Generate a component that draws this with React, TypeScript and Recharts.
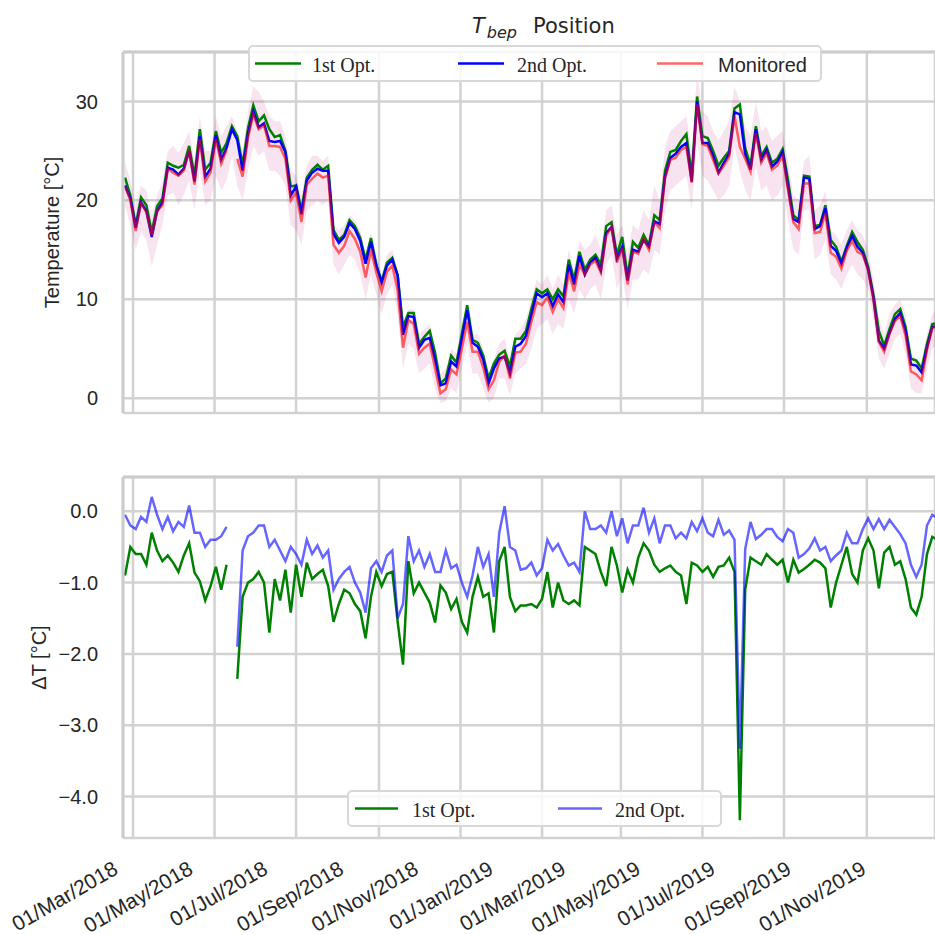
import type { FC } from 'react';

import {
  Area,
  CartesianGrid,
  ComposedChart,
  Legend,
  Line,
  LineChart,
  ReferenceLine,
  XAxis,
  YAxis,
} from 'recharts';

// sampled every 4 days, first sample 6 days before 01/Mar/2018
const START_DATE = '2018-03-01';
const FIRST_DAY = -6;
const STEP_DAYS = 4;

const tickDates = [
  '2018-03-01', '2018-05-01', '2018-07-01', '2018-09-01', '2018-11-01', '2019-01-01',
  '2019-03-01', '2019-05-01', '2019-07-01', '2019-09-01', '2019-11-01',
];
const tickLabels = [
  '01/Mar/2018', '01/May/2018', '01/Jul/2018', '01/Sep/2018', '01/Nov/2018', '01/Jan/2019',
  '01/Mar/2019', '01/May/2019', '01/Jul/2019', '01/Sep/2019', '01/Nov/2019',
];

// temperature [°C]
const opt1Temp = [
  22.3, 20.5, 17.5, 20.3, 19.5, 16.8, 19.4, 20.2, 23.8, 23.5,
  23.3, 23.6, 25.5, 22.5, 27.2, 23.1, 23.8, 27.0, 24.8, 25.8,
  27.5, 26.5, 23.6, 27.3, 29.6, 28.0, 28.6, 27.2, 26.4, 26.6,
  25.0, 21.4, 21.5, 19.0, 22.3, 23.1, 23.6, 23.1, 23.5, 17.0,
  16.0, 16.5, 18.0, 17.4, 16.2, 14.0, 16.2, 13.5, 11.8, 13.7,
  14.2, 12.4, 7.2, 8.6, 8.6, 5.5, 6.2, 6.8, 4.6, 1.5,
  2.0, 4.3, 3.6, 6.5, 9.4, 5.9, 5.6, 4.3, 2.0, 3.5,
  4.4, 4.8, 3.2, 6.0, 6.0, 6.8, 9.0, 11.0, 10.6, 11.0,
  10.0, 11.0, 10.3, 14.0, 12.0, 14.8, 13.0, 14.0, 14.5, 13.5,
  17.4, 17.8, 14.5, 16.3, 12.3, 15.8, 15.2, 16.5, 15.5, 18.5,
  18.0, 23.0, 24.9, 25.1, 26.0, 26.7, 22.5, 30.5, 26.5, 26.3,
  25.0, 23.5, 24.3, 25.0, 29.3, 29.7, 25.3, 23.5, 27.5, 24.5,
  25.4, 23.8, 24.2, 25.2, 22.1, 18.5, 18.0, 22.5, 22.4, 17.4,
  17.5, 19.5, 16.0, 15.3, 13.8, 15.4, 16.8, 15.8, 15.0, 13.3,
  10.4, 6.8, 5.3, 7.0, 8.5, 9.0, 7.2, 4.0, 3.8, 3.0,
  5.5, 7.5, 7.6,
];
const opt2Temp = [
  21.5, 20.2, 17.2, 19.8, 18.9, 16.3, 18.9, 19.8, 23.3, 23.1,
  22.6, 23.2, 25.0, 21.9, 26.5, 22.4, 23.2, 26.6, 24.1, 25.3,
  27.2, 26.1, 23.0, 26.7, 29.0, 27.4, 27.8, 26.0, 25.9, 26.0,
  24.9, 20.5, 21.4, 18.6, 22.0, 22.8, 23.2, 23.0, 23.0, 16.6,
  15.7, 16.3, 17.7, 17.1, 15.9, 13.6, 15.8, 13.4, 11.7, 13.4,
  14.0, 12.4, 6.4, 8.3, 8.2, 5.1, 5.9, 6.1, 3.9, 1.3,
  1.5, 3.7, 3.2, 6.0, 8.9, 5.6, 5.2, 3.9, 1.5, 3.0,
  4.0, 4.2, 2.5, 5.2, 5.5, 6.3, 8.4, 10.6, 10.2, 10.6,
  9.3, 10.5, 9.7, 13.5, 11.5, 14.4, 12.5, 13.7, 14.2, 12.9,
  16.7, 17.3, 14.1, 15.3, 11.9, 15.0, 14.8, 16.0, 15.3, 17.9,
  17.6, 22.4, 24.3, 24.7, 25.4, 25.8, 21.9, 30.0, 25.8, 25.8,
  24.5, 22.8, 23.8, 24.7, 28.9, 28.7, 24.7, 23.1, 27.2, 24.1,
  25.1, 23.4, 23.9, 24.9, 21.4, 18.1, 17.8, 22.3, 22.2, 17.1,
  17.4, 19.2, 15.4, 14.9, 13.6, 15.2, 16.4, 15.3, 14.7, 13.0,
  10.1, 5.8, 5.0, 6.6, 8.0, 8.6, 6.8, 3.4, 3.3, 2.6,
  5.1, 7.2, 7.3,
];
const monitoredTemp = [
  21.4, 20.0, 16.9, 19.7, 18.8, 16.5, 18.9, 19.5, 23.2, 22.8,
  22.5, 23.0, 25.1, 21.6, 26.2, 21.9, 22.8, 26.2, 23.7, 25.1,
  null, 24.2, 22.4, 26.3, 28.7, 27.2, 27.6, 25.5, 25.5, 25.4,
  24.2, 20.0, 20.8, 17.8, 21.6, 22.2, 22.7, 22.3, 22.5, 15.5,
  14.7, 15.4, 16.9, 16.1, 14.8, 12.2, 15.0, 12.7, 10.8, 12.8,
  13.4, 10.9, 5.1, 7.9, 7.5, 4.5, 5.1, 5.5, 3.0, 0.5,
  0.9, 2.9, 2.4, 5.0, 7.7, 4.7, 4.7, 3.1, 0.9, 1.8,
  3.7, 4.3, 2.0, 4.6, 4.7, 5.5, 7.7, 9.7, 9.4, 10.2,
  8.7, 10.0, 9.1, 12.7, 10.8, 13.5, 12.5, 13.5, 13.9, 12.7,
  16.4, 17.3, 13.7, 15.2, 11.5, 14.8, 14.6, 16.1, 15.0, 17.8,
  17.2, 22.2, 24.1, 24.3, 25.1, 25.4, 21.8, 29.7, 25.7, 25.5,
  24.1, 22.7, 23.5, 24.4, 28.5, 25.4, 24.2, 22.9, 26.8, 23.8,
  24.8, 23.1, 23.5, 24.5, 21.1, 17.8, 17.1, 21.7, 21.7, 16.7,
  16.8, 18.7, 14.7, 14.3, 13.1, 14.9, 15.9, 14.8, 14.5, 12.9,
  9.9, 5.7, 4.7, 6.5, 7.8, 8.3, 6.3, 2.7, 2.4, 1.8,
  4.9, 7.1, 7.2,
];
// spread of the raw monitored readings (light band)
const rawLow = [
  19.5, 17.5, 15.0, 16.8, 16.0, 13.3, 15.5, 17.5, 20.5, 20.8,
  19.5, 20.6, 22.0, 19.0, 23.0, 19.5, 20.0, 22.5, 21.0, 22.0,
  24.5, 21.5, 20.0, 23.0, 25.5, 24.5, 25.0, 23.0, 23.0, 22.5,
  21.5, 17.5, 17.0, 15.5, 19.0, 19.5, 20.0, 19.5, 20.0, 13.5,
  12.5, 13.5, 14.5, 14.0, 12.5, 10.0, 12.5, 10.5, 8.5, 10.5,
  11.5, 8.5, 3.0, 5.5, 5.0, 2.5, 3.0, 3.5, 1.0, -0.5,
  -0.3, 1.0, 0.5, 3.0, 5.5, 2.5, 2.5, 1.0, -0.5, 0.0,
  2.0, 2.0, 0.3, 2.5, 3.0, 3.5, 5.0, 7.0, 7.5, 8.0,
  6.5, 7.5, 7.0, 10.0, 8.5, 11.0, 10.0, 11.0, 11.5, 10.0,
  13.5, 14.5, 11.0, 12.5, 9.0, 12.0, 12.0, 13.0, 12.5, 15.0,
  14.5, 19.0, 21.0, 21.5, 22.0, 22.5, 19.0, 26.0, 22.5, 22.0,
  21.0, 20.0, 20.5, 21.5, 25.5, 23.0, 21.0, 20.0, 23.5, 21.0,
  21.5, 20.0, 20.5, 21.5, 18.0, 15.0, 14.5, 19.0, 19.0, 14.0,
  14.5, 16.0, 12.5, 12.0, 11.0, 12.5, 13.5, 12.5, 12.0, 11.0,
  8.0, 4.0, 3.0, 4.5, 6.0, 6.5, 4.5, 1.0, 0.5, 0.5,
  3.0, 5.0, 5.5,
];
const rawHigh = [
  23.8, 22.0, 19.5, 21.5, 21.0, 18.5, 20.5, 21.8, 25.0, 25.5,
  24.8, 25.8, 27.0, 24.0, 28.5, 25.0, 25.0, 28.5, 26.5, 27.5,
  28.5, 27.0, 25.0, 29.0, 31.5, 31.0, 30.0, 28.5, 28.0, 28.0,
  26.5, 23.0, 22.5, 20.5, 23.5, 24.5, 24.5, 24.0, 24.5, 17.5,
  17.0, 17.5, 18.5, 18.0, 17.0, 14.5, 16.8, 14.5, 12.5, 14.5,
  15.0, 13.0, 7.5, 9.0, 9.0, 6.5, 7.0, 7.5, 5.0, 2.5,
  3.0, 5.0, 4.5, 7.5, 9.5, 6.5, 6.5, 5.0, 2.5, 4.0,
  5.5, 6.0, 4.0, 6.5, 7.0, 8.0, 10.0, 12.0, 11.5, 12.5,
  11.0, 12.5, 11.5, 15.0, 13.0, 16.0, 15.0, 15.5, 16.5, 15.0,
  19.0, 19.5, 16.5, 17.5, 14.5, 17.5, 17.0, 19.0, 18.0, 21.5,
  20.0, 25.5, 27.0, 27.5, 28.0, 28.5, 25.0, 33.0, 29.0, 28.5,
  27.0, 26.0, 27.0, 28.0, 31.5, 30.0, 27.5, 26.5, 30.0, 27.0,
  27.5, 26.0, 26.5, 27.0, 24.0, 20.5, 20.0, 24.0, 24.5, 19.0,
  19.5, 21.0, 17.0, 16.5, 15.5, 17.0, 18.0, 17.0, 16.5, 15.0,
  12.0, 8.0, 6.5, 8.5, 9.5, 10.0, 8.5, 4.5, 4.0, 3.5,
  6.5, 8.5, 9.0,
];

// ΔT [°C]
const opt1Delta = [
  -0.9, -0.5, -0.6, -0.6, -0.75, -0.3, -0.55, -0.7, -0.62, -0.72,
  -0.85, -0.62, -0.45, -0.86, -0.98, -1.25, -1.05, -0.78, -1.1, -0.75,
  null, -2.35, -1.2, -1.0, -0.95, -0.85, -1.0, -1.7, -0.95, -1.25,
  -0.82, -1.42, -0.75, -1.2, -0.72, -0.95, -0.88, -0.82, -1.05, -1.55,
  -1.3, -1.1, -1.15, -1.3, -1.4, -1.78, -1.2, -0.85, -1.05, -0.88,
  -0.85, -1.55, -2.15, -0.7, -1.15, -1.0, -1.14, -1.28, -1.56, -1.04,
  -1.14, -1.37, -1.23, -1.55, -1.7, -1.2, -0.92, -1.2, -1.15, -1.7,
  -0.7, -0.5, -1.2, -1.4, -1.32, -1.32, -1.3, -1.35, -1.23, -0.85,
  -1.35, -1.0, -1.25, -1.3, -1.25, -1.32, -0.5, -0.55, -0.6, -0.85,
  -1.05, -0.5, -0.76, -1.14, -0.82, -1.0, -0.65, -0.45, -0.55, -0.75,
  -0.85, -0.8, -0.76, -0.85, -0.9, -1.3, -0.72, -0.76, -0.85, -0.78,
  -0.92, -0.78, -0.76, -0.65, -0.85, -4.33, -1.1, -0.65, -0.7, -0.75,
  -0.6, -0.68, -0.75, -0.68, -1.0, -0.68, -0.86, -0.81, -0.75, -0.68,
  -0.72, -0.8, -1.35, -1.0, -0.75, -0.5, -0.88, -1.0, -0.55, -0.38,
  -0.55, -1.08, -0.58, -0.5, -0.75, -0.7, -0.95, -1.35, -1.45, -1.2,
  -0.6, -0.36, -0.4,
];
const opt2Delta = [
  -0.05, -0.2, -0.25, -0.08, -0.15, 0.2, -0.05, -0.25, -0.08, -0.28,
  -0.15, -0.22, 0.08, -0.3, -0.3, -0.5, -0.4, -0.4, -0.35, -0.22,
  null, -1.9, -0.55, -0.35, -0.3, -0.2, -0.2, -0.5, -0.4, -0.55,
  -0.7, -0.5, -0.6, -0.75, -0.4, -0.6, -0.48, -0.65, -0.55, -1.1,
  -0.95, -0.85, -0.78, -1.0, -1.14, -1.42, -0.8, -0.7, -0.85, -0.62,
  -0.55, -1.5, -1.3, -0.35, -0.7, -0.55, -0.78, -0.6, -0.85, -0.85,
  -0.55, -0.8, -0.75, -1.0, -1.2, -0.9, -0.5, -0.78, -0.6, -1.2,
  -0.3, 0.07, -0.5, -0.55, -0.82, -0.8, -0.72, -0.9, -0.8, -0.4,
  -0.55, -0.46, -0.62, -0.76, -0.72, -0.85, 0.0, -0.25, -0.25, -0.2,
  -0.3, 0.0, -0.35, -0.1, -0.45, -0.2, -0.2, 0.05, -0.3, -0.1,
  -0.45, -0.2, -0.2, -0.38, -0.3, -0.38, -0.15, -0.28, -0.1, -0.3,
  -0.35, -0.12, -0.33, -0.27, -0.4, -3.33, -0.53, -0.15, -0.39, -0.33,
  -0.25, -0.25, -0.36, -0.42, -0.25, -0.3, -0.65, -0.6, -0.52, -0.38,
  -0.55, -0.5, -0.7, -0.62, -0.55, -0.3, -0.45, -0.45, -0.25, -0.1,
  -0.25, -0.11, -0.25, -0.12, -0.22, -0.32, -0.45, -0.75, -0.92, -0.75,
  -0.2, -0.05, -0.1,
];

const DAY_MS = 86400000;
const tickDays = tickDates.map((d) => (Date.parse(d) - Date.parse(START_DATE)) / DAY_MS);

const rows = opt1Temp.map((v, i) => ({
  day: FIRST_DAY + STEP_DAYS * i,
  opt1: v,
  opt2: opt2Temp[i],
  mon: monitoredTemp[i],
  raw: [rawLow[i], rawHigh[i]],
  d1: opt1Delta[i],
  d2: opt2Delta[i],
}));

const SANS = '"Liberation Sans", Arial, sans-serif';
const SERIF = '"Liberation Serif", "Times New Roman", serif';
const TXT = '#262626';
const GRID = '#d2d2d2';
const SPINE = '#cccccc';
const tickStyle = { fill: TXT, fontSize: 20, fontFamily: SANS };

// keeps the ticks (and so the vertical grid) without drawing any label
const NoTick = () => <g />;

interface LegendItem {
  label: string;
  color: string;
  opacity: number;
  x1: number;
  x2: number;
  tx: number;
  font: string;
}

const LegendBox: FC<{ items: LegendItem[]; width: number; height: number }> = ({ items, width, height }) => (
  <div
    style={{
      width,
      height,
      boxSizing: 'border-box',
      border: '2px solid #d8d8d8',
      borderRadius: 5,
      background: 'rgba(255,255,255,0.85)',
      position: 'relative',
    }}
  >
    <svg width={width} height={height} style={{ position: 'absolute', left: -2, top: -2 }}>
      {items.map((it) => (
        <g key={it.label}>
          <line x1={it.x1} x2={it.x2} y1={height / 2} y2={height / 2} stroke={it.color} strokeOpacity={it.opacity} strokeWidth={2.5} />
          <text x={it.tx} y={height / 2 + 1} dominantBaseline="central" fontSize={20} fontFamily={it.font} fill={TXT}>
            {it.label}
          </text>
        </g>
      ))}
    </svg>
  </div>
);

const topLegend: LegendItem[] = [
  { label: '1st Opt.', color: '#008000', opacity: 1, x1: 7, x2: 53, tx: 64, font: SERIF },
  { label: '2nd Opt.', color: '#0000ff', opacity: 1, x1: 210, x2: 256, tx: 269, font: SERIF },
  { label: 'Monitored', color: '#ff0000', opacity: 0.6, x1: 409, x2: 455, tx: 470, font: SANS },
];
const bottomLegend: LegendItem[] = [
  { label: '1st Opt.', color: '#008000', opacity: 1, x1: 8, x2: 51, tx: 65, font: SERIF },
  { label: '2nd Opt.', color: '#0000ff', opacity: 0.6, x1: 211, x2: 255, tx: 268, font: SERIF },
];

const fmtDelta = (v: number) => v.toFixed(1).replace('-', '\u2212');

const App: FC = () => {
  return (
    <div style={{ position: 'absolute', left: 0, top: 0, width: 935, height: 935, background: '#fff', overflow: 'hidden' }}>
      <svg width={935} height={45} style={{ position: 'absolute', left: 0, top: 0 }}>
        <text x={472} y={33} fontFamily='"DejaVu Sans", sans-serif' fontSize={21} fill={TXT}>
          <tspan fontStyle="italic">T</tspan>
          <tspan fontStyle="italic" fontSize={16} dx={2} dy={5}>bep</tspan>
          <tspan dx={16} dy={-5}>Position</tspan>
        </text>
      </svg>

      <div style={{ position: 'absolute', left: 0, top: 0 }}>
        <ComposedChart width={935} height={430} data={rows} margin={{ top: 52, right: 0, bottom: 17, left: 0 }}>
          <CartesianGrid stroke={GRID} strokeWidth={2.5} />
          <XAxis
            dataKey="day"
            type="number"
            domain={[-7.5, 600]}
            allowDataOverflow
            ticks={tickDays}
            interval={0}
            tick={NoTick}
            tickLine={false}
            height={0}
            axisLine={{ stroke: SPINE, strokeWidth: 3 }}
          />
          <YAxis
            type="number"
            domain={[-1.5, 35]}
            allowDataOverflow
            ticks={[0, 10, 20, 30]}
            width={123}
            tickLine={false}
            tickSize={6}
            tickMargin={19}
            tick={tickStyle}
            axisLine={{ stroke: SPINE, strokeWidth: 3 }}
            label={{
              value: 'Temperature [°C]',
              angle: -90,
              position: 'insideLeft',
              offset: 52,
              style: { textAnchor: 'middle', fontSize: 20, fill: TXT, fontFamily: SANS },
            }}
          />
          <ReferenceLine y={35} stroke={SPINE} strokeWidth={3} />
          <Area dataKey="raw" type="linear" stroke="none" fill="#c71585" fillOpacity={0.12} isAnimationActive={false} />
          <Line dataKey="opt1" type="linear" stroke="#008000" strokeWidth={2.5} dot={false} isAnimationActive={false} />
          <Line dataKey="opt2" type="linear" stroke="#0000ff" strokeWidth={2.5} dot={false} isAnimationActive={false} />
          <Line dataKey="mon" type="linear" stroke="#ff0000" strokeOpacity={0.6} strokeWidth={2.5} dot={false} isAnimationActive={false} />
          <Legend
            layout="horizontal"
            verticalAlign="middle"
            align="center"
            wrapperStyle={{ position: 'absolute', left: 248, top: 45, width: 574, height: 37 }}
            content={() => <LegendBox items={topLegend} width={574} height={37} />}
          />
        </ComposedChart>
      </div>

      <div style={{ position: 'absolute', left: 0, top: 430 }}>
        <LineChart width={935} height={505} data={rows} margin={{ top: 47, right: 0, bottom: 0, left: 0 }}>
          <CartesianGrid stroke={GRID} strokeWidth={2.5} />
          <XAxis
            dataKey="day"
            type="number"
            domain={[-7.5, 600]}
            allowDataOverflow
            ticks={tickDays}
            interval={0}
            tick={NoTick}
            tickLine={false}
            height={0}
            axisLine={{ stroke: SPINE, strokeWidth: 3 }}
          />
          <XAxis
            xAxisId="labels"
            dataKey="day"
            type="number"
            domain={[8.97, 671.2]}
            allowDataOverflow
            ticks={tickDays}
            interval={0}
            height={97}
            axisLine={false}
            tickLine={false}
            tickSize={0}
            tickMargin={22}
            angle={-30}
            tick={{ ...tickStyle, fontSize: 21, textAnchor: 'end' }}
            tickFormatter={(_v: number, i: number) => tickLabels[i]}
          />
          <YAxis
            type="number"
            domain={[-4.58, 0.48]}
            allowDataOverflow
            ticks={[-4, -3, -2, -1, 0]}
            width={123}
            tickLine={false}
            tickSize={6}
            tickMargin={19}
            tick={tickStyle}
            tickFormatter={fmtDelta}
            axisLine={{ stroke: SPINE, strokeWidth: 3 }}
            label={{
              value: 'ΔT [°C]',
              angle: -90,
              position: 'insideLeft',
              offset: 39,
              style: { textAnchor: 'middle', fontSize: 20, fill: TXT, fontFamily: SANS },
            }}
          />
          <ReferenceLine y={0.48} stroke={SPINE} strokeWidth={3} />
          <Line dataKey="d1" type="linear" stroke="#008000" strokeWidth={2.5} dot={false} isAnimationActive={false} />
          <Line dataKey="d2" type="linear" stroke="#0000ff" strokeOpacity={0.6} strokeWidth={2.5} dot={false} isAnimationActive={false} />
          <Legend
            layout="horizontal"
            verticalAlign="middle"
            align="center"
            wrapperStyle={{ position: 'absolute', left: 347, top: 360, width: 375, height: 37 }}
            content={() => <LegendBox items={bottomLegend} width={375} height={37} />}
          />
        </LineChart>
      </div>
    </div>
  );
};

export default App;
